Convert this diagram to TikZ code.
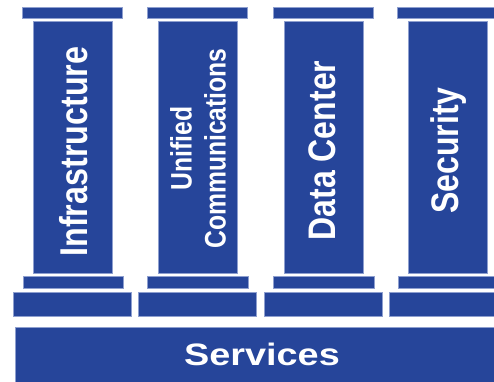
\documentclass[tikz,border=0pt]{standalone}
\usepackage{fontspec}
\setmainfont{Liberation Sans}
\definecolor{pillarblue}{HTML}{26459A}
\definecolor{pillaredge}{HTML}{8E9FCF}
\tikzset{
  block/.style={fill=pillarblue,draw=pillaredge,line width=0.6pt,inner sep=0pt,outer sep=0pt,anchor=north west,text=white},
  lbl/.style={inner sep=0pt,text=white,rotate=90,yscale=1.2,align=center},
}
\newcommand{\blk}[5]{\node[block,minimum width=#4 pt,minimum height=#5 pt] (#1) at (#2pt,-#3pt) {};}
\begin{document}
\begin{tikzpicture}[x=1pt,y=1pt]
\useasboundingbox (0,0) rectangle (494,-381);
\clip (0,0) rectangle (494,-381);
% column 1
\blk{capA}{22}{7}{100}{11}
\blk{shaftA}{33}{21}{79}{252}
\blk{lowA}{23}{276.5}{100}{11.5}
\blk{baseA}{13.5}{292}{117.5}{24}
% column 2
\blk{capB}{147}{7}{100}{11}
\blk{shaftB}{158}{21}{79}{252}
\blk{lowB}{147.5}{276.5}{100.5}{11.5}
\blk{baseB}{138.5}{292}{117.5}{24}
% column 3
\blk{capC}{273}{7}{100}{11}
\blk{shaftC}{284}{21}{79}{252}
\blk{lowC}{273.5}{276.5}{100.5}{11.5}
\blk{baseC}{264.5}{292}{117.5}{24}
% column 4
\blk{capD}{397.5}{7}{100}{11}
\blk{shaftD}{408.5}{21}{79}{252}
\blk{lowD}{398}{276.5}{100}{11.5}
\blk{baseD}{389}{292}{117.5}{24}
% services
\blk{serv}{15}{327}{490}{60}
% labels
\node[lbl,font=\bfseries\fontsize{32.3}{34}\selectfont] (tA) at (74pt,-151.5pt) {Infrastructure};
\node[lbl,font=\bfseries\fontsize{24.7}{28.3}\selectfont] (tB) at (198pt,-148.5pt) {Unified\\Communications};
\node[lbl,font=\bfseries\fontsize{32}{34}\selectfont] (tC) at (322pt,-150.5pt) {Data Center};
\node[lbl,font=\bfseries\fontsize{32}{34}\selectfont] (tD) at (449pt,-150.5pt) {Security};
\node[inner sep=0pt,text=white,font=\bfseries\fontsize{31}{33}\selectfont,xscale=1.22] (tS) at (262pt,-354pt) {Services};
\end{tikzpicture}
\end{document}
